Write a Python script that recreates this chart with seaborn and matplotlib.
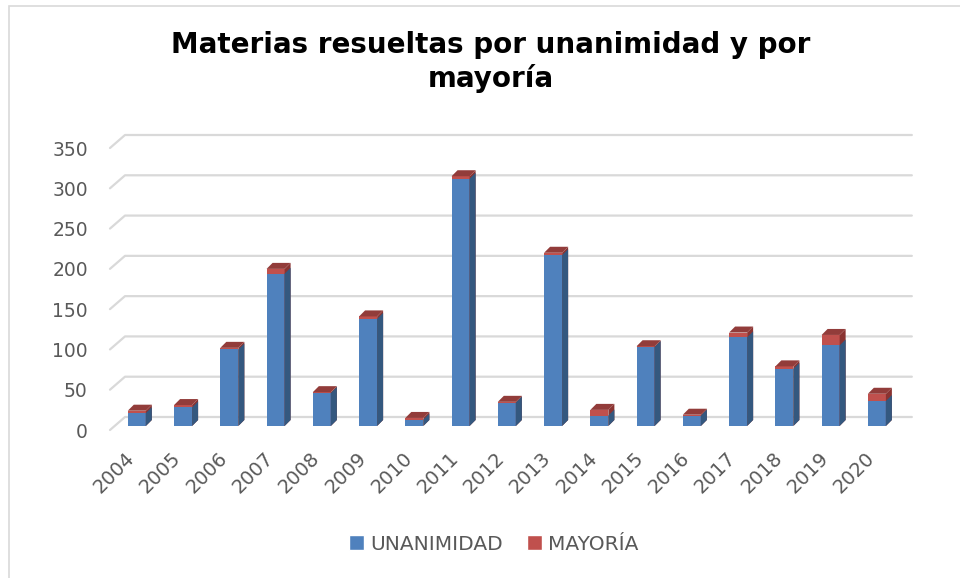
import numpy as np
import pandas as pd
import matplotlib
matplotlib.use('Agg')
import matplotlib.pyplot as plt
import matplotlib.transforms as mtransforms
from matplotlib.patches import Polygon, Patch, Rectangle
import seaborn as sns

# values
years = ['2004', '2005', '2006', '2007', '2008', '2009', '2010', '2011', '2012',
         '2013', '2014', '2015', '2016', '2017', '2018', '2019', '2020']
unanimidad = [16, 23, 95, 189, 41, 133, 8, 307, 29, 212, 13, 98, 13, 110, 71, 100, 31]
mayoria = [3, 3, 2, 6, 1, 3, 2, 3, 1, 3, 7, 1, 1, 6, 3, 13, 9]
yticks = [0, 50, 100, 150, 200, 250, 300, 350]

df = pd.DataFrame({'year': years, 'UNANIMIDAD': unanimidad, 'MAYORÍA': mayoria})
df['total'] = df['UNANIMIDAD'] + df['MAYORÍA']

blue, blue_side = '#4F81BD', '#34587f'
red, red_top, red_side = '#C0504D', '#923c3a', '#8a3331'
grid_c = '#d9d9d9'
text_c = '#595959'

sns.set_style('white')
fig = plt.figure(figsize=(9.6, 5.78), dpi=100)
ax = fig.add_axes([110 / 960, 152 / 578, 790 / 960, 282 / 578])

sns.barplot(data=df, x='year', y='total', color=red, width=0.39, saturation=1,
            errorbar=None, ax=ax, zorder=3, edgecolor='none', linewidth=0)
sns.barplot(data=df, x='year', y='UNANIMIDAD', color=blue, width=0.39, saturation=1,
            errorbar=None, ax=ax, zorder=3, edgecolor='none', linewidth=0)

ax.set_xlim(-0.58, 16.5)
ax.set_ylim(0, 350)

# fake 3d depth: side and top faces built from the drawn bars
px_x = 17.08 / 790
px_y = 350 / 282
dx = 6 * px_x
dy = 6 * px_y
n = len(years)
for i, p in enumerate(list(ax.patches)):
    x0, w, h = p.get_x(), p.get_width(), p.get_height()
    is_total = i < n
    side = Polygon([(x0 + w, 0), (x0 + w + dx, dy), (x0 + w + dx, h + dy), (x0 + w, h)],
                   closed=True, facecolor=red_side if is_total else blue_side,
                   edgecolor='none', zorder=3 if is_total else 3.5)
    ax.add_patch(side)
    if is_total:
        top = Polygon([(x0, h), (x0 + w, h), (x0 + w + dx, h + dy), (x0 + dx, h + dy)],
                      closed=True, facecolor=red_top, edgecolor='none', zorder=3)
        ax.add_patch(top)

# back-wall gridlines with the little slanted stub on the left
trans = mtransforms.blended_transform_factory(ax.transAxes, ax.transData)
gx = 15 / 790
g0 = 4 * px_y
gy = 9 * px_y
for t in yticks:
    ax.plot([0, gx, 1.015], [t - g0, t + gy, t + gy], transform=trans, color=grid_c,
            lw=1.6, zorder=0, clip_on=False)

ax.set_yticks(yticks)
ax.set_xlabel('')
ax.set_ylabel('')
ax.tick_params(axis='y', length=0, pad=16, labelsize=13.5, labelcolor=text_c)
ax.tick_params(axis='x', length=0, pad=21, labelsize=14, labelcolor=text_c)
down = mtransforms.ScaledTranslation(0, -4 / 100, fig.dpi_scale_trans)
for lbl in ax.get_yticklabels():
    lbl.set_transform(lbl.get_transform() + down)
left = mtransforms.ScaledTranslation(-5 / 100, 0, fig.dpi_scale_trans)
for lbl in ax.get_xticklabels():
    lbl.set_rotation(45)
    lbl.set_ha('right')
    lbl.set_va('center')
    lbl.set_rotation_mode('anchor')
    lbl.set_transform(lbl.get_transform() + left)
sns.despine(ax=ax, left=True, bottom=True)

fig.text(0.511, 1 - 62 / 578, 'Materias resueltas por unanimidad y por\nmayoría',
         ha='center', va='center', fontsize=20, fontweight='bold', color='black',
         linespacing=1.25)

handles = [Patch(facecolor=blue), Patch(facecolor=red)]
fig.legend(handles, ['UNANIMIDAD', 'MAYORÍA'], loc='center',
           bbox_to_anchor=(494 / 960, 1 - 544 / 578), ncol=2, frameon=False,
           fontsize=14.5, handlelength=0.75, handleheight=0.75, handletextpad=0.3,
           columnspacing=1.2, labelcolor=text_c)

fig.patches.append(Rectangle((9 / 960, -0.1), 1.2, 1 - 6 / 578 + 0.1,
                             transform=fig.transFigure, fill=False,
                             edgecolor=grid_c, lw=1.2))

fig.savefig('out.png', dpi=100)
